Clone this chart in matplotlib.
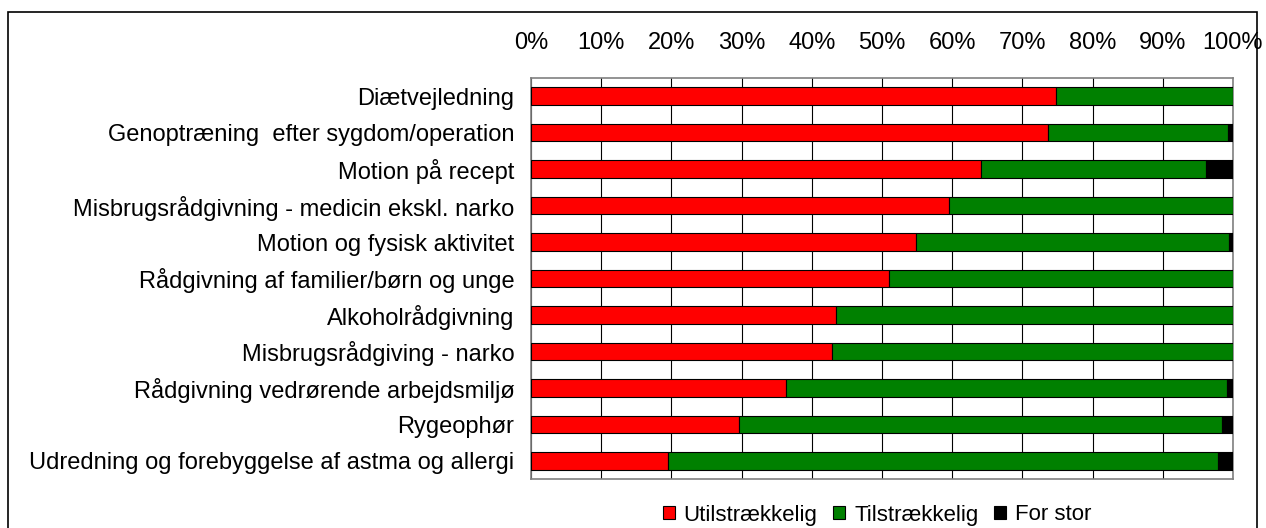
import matplotlib
matplotlib.use('Agg')
import matplotlib.pyplot as plt
from matplotlib.patches import Rectangle, Patch

plt.rcParams['font.family'] = ['Liberation Sans', 'DejaVu Sans']

# Data (andel af svar, i %)
categories = [
    'Diætvejledning',
    'Genoptræning  efter sygdom/operation',
    'Motion på recept',
    'Misbrugsrådgivning - medicin ekskl. narko',
    'Motion og fysisk aktivitet',
    'Rådgivning af familier/børn og unge',
    'Alkoholrådgivning',
    'Misbrugsrådgiving - narko',
    'Rådgivning vedrørende arbejdsmiljø',
    'Rygeophør',
    'Udredning og forebyggelse af astma og allergi',
]
utilstraekkelig = [74.8, 73.7, 64.1, 59.5, 54.8, 51.0, 43.4, 42.9, 36.3, 29.6, 19.5]
for_stor = [0.0, 0.7, 3.9, 0.0, 0.5, 0.0, 0.0, 0.0, 0.9, 1.6, 2.2]
tilstraekkelig = [100 - u - f for u, f in zip(utilstraekkelig, for_stor)]

series_names = ['Utilstrækkelig', 'Tilstrækkelig', 'For stor']
colors = ['#FF0000', '#008000', '#000000']
xticks = list(range(0, 101, 10))

W, H = 1266, 528
fig = plt.figure(figsize=(W / 100, H / 100), dpi=100)

# plot area in pixels
left, right, top, bottom = 531, 1233, 78, 479
ax = fig.add_axes([left / W, 1 - bottom / H, (right - left) / W, (bottom - top) / H])

y = list(range(len(categories)))
starts = [0] * len(categories)
for vals, c in zip([utilstraekkelig, tilstraekkelig, for_stor], colors):
    ax.barh(y, vals, left=starts, height=0.48, color=c, edgecolor='black',
            linewidth=0.8, zorder=3)
    starts = [s + v for s, v in zip(starts, vals)]

ax.set_xlim(0, 100)
ax.set_ylim(len(categories) - 0.5, -0.5)
ax.set_xticks(xticks)
ax.set_xticklabels([f'{t}%' for t in xticks], fontsize=17)
ax.xaxis.tick_top()
ax.tick_params(axis='x', length=0, pad=17)
ax.set_yticks(y)
ax.set_yticklabels(categories, fontsize=17)
ax.tick_params(axis='y', length=0, pad=12)

ax.grid(True, axis='x', color='black', linewidth=0.8, zorder=0)
ax.grid(False, axis='y')
for s in ax.spines.values():
    s.set_color('#808080')
    s.set_linewidth(1.2)

# figure frame
fig.patches.append(Rectangle((8 / W, -0.05), (1257 - 8) / W, 1.05 - 12 / H,
                             transform=fig.transFigure, fill=False,
                             edgecolor='black', linewidth=1.2))

handles = [Patch(facecolor=c, edgecolor='black', linewidth=0.8) for c in colors]
fig.legend(handles, series_names, loc='center', bbox_to_anchor=(877 / W, 1 - 515 / H),
           ncol=3, frameon=False, fontsize=16, handlelength=0.55, handleheight=0.55,
           handletextpad=0.4, columnspacing=0.7, borderpad=0)

fig.savefig('out.png', dpi=100)
